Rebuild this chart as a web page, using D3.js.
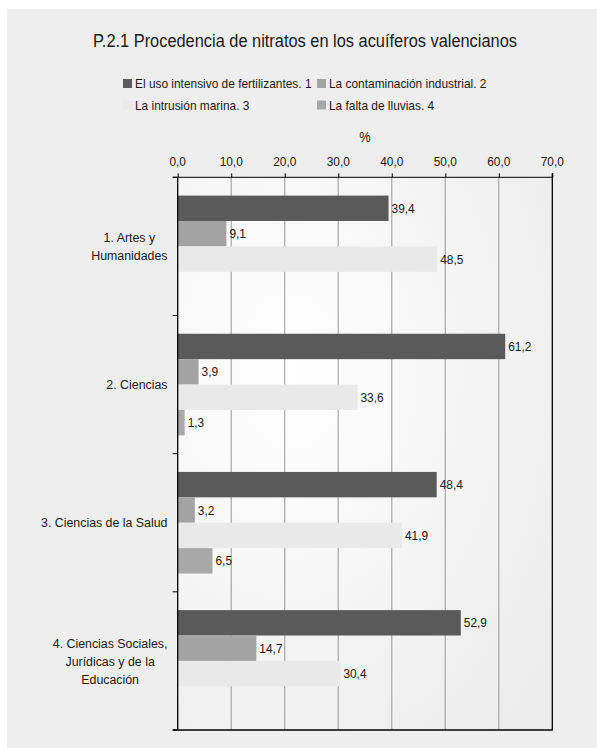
<!DOCTYPE html>
<html><head><meta charset="utf-8">
<script src="https://cdn.jsdelivr.net/npm/d3@7"></script>
<style>
html,body{margin:0;padding:0;background:#fff;}
svg text{font-family:"Liberation Sans",Arial,sans-serif;fill:#1a1a1a;}
</style></head>
<body>
<svg id="chart" width="597" height="748"></svg>
<script>
const title = "P.2.1 Procedencia de nitratos en los acuíferos valencianos";
const categories = ["1. Artes y Humanidades", "2. Ciencias", "3. Ciencias de la Salud", "4. Ciencias Sociales, Jurídicas y de la Educación"];
const categoryLines = [["1. Artes y", "Humanidades"], ["2. Ciencias"], ["3. Ciencias de la Salud"], ["4. Ciencias Sociales,", "Jurídicas y de la", "Educación"]];
const seriesNames = ["El uso intensivo de fertilizantes. 1", "La contaminación industrial. 2", "La intrusión marina. 3", "La falta de lluvias. 4"];
const seriesColors = ["#5a5a5a", "#a3a3a3", "#e9e9e9", "#a8a8a8"];
const s1 = [39.4, 61.2, 48.4, 52.9];
const s2 = [9.1, 3.9, 3.2, 14.7];
const s3 = [48.5, 33.6, 41.9, 30.4];
const s4 = [null, 1.3, 6.5, null];
const tickValues = [0, 10, 20, 30, 40, 50, 60, 70];
const axisTitle = "%";

(function () {
const seriesValues = [s1, s2, s3, s4];
const svg = d3.select("#chart");
const loc = d3.formatLocale({decimal: ",", thousands: ".", grouping: [3], currency: ["", "€"]});
const fmt = loc.format(".1f");

// condensed text helper
function ctext(parent, x, y, str, size, anchor, k) {
  return parent.append("text")
    .attr("transform", `translate(${x},${y}) scale(${k},1)`)
    .attr("dy", "0.35em").attr("font-size", size).attr("text-anchor", anchor || "start").text(str);
}
function natW(str, size) {
  const t = svg.append("text").attr("font-size", size).text(str);
  const w = t.node().getComputedTextLength(); t.remove(); return w;
}
const K = 176.7 / natW(seriesNames[0], 13);
const KT = 424 / natW(title, 18.5);

// background
const defs = svg.append("defs");
const rg = defs.append("radialGradient").attr("id", "pg").attr("cx", "0.3").attr("cy", "0.35").attr("r", "0.85");
rg.append("stop").attr("offset", "0").attr("stop-color", "#ffffff");
rg.append("stop").attr("offset", "1").attr("stop-color", "#ececec");
svg.append("rect").attr("x", 7).attr("y", 9).attr("width", 590).attr("height", 739).attr("fill", "#eeeeee");

const pL = 177.7, pR = 552.3, pT = 177.3, pB = 730;
const x = d3.scaleLinear().domain([0, 70]).range([pL, pR]);
const y0 = d3.scaleBand().domain(categories).range([pT, pB]).paddingInner(0).paddingOuter(0);
const y1 = d3.scaleBand().domain(seriesNames).range([0, y0.bandwidth()]).paddingInner(0).paddingOuter(0.72);

svg.append("rect").attr("x", pL).attr("y", pT).attr("width", pR - pL).attr("height", pB - pT).attr("fill", "url(#pg)");

// gridlines
svg.append("g").selectAll("line").data(tickValues.slice(1, -1)).join("line")
  .attr("x1", d => x(d)).attr("x2", d => x(d)).attr("y1", pT).attr("y2", pB)
  .attr("stroke", "#a6a6a6").attr("stroke-width", 1.2);

// bars
const g = svg.append("g");
categories.forEach((c, ci) => {
  seriesNames.forEach((s, si) => {
    const v = seriesValues[si][ci];
    if (v == null) return;
    const yy = y0(c) + y1(s);
    g.append("rect").attr("x", x(0)).attr("y", yy).attr("width", x(v) - x(0)).attr("height", y1.bandwidth())
      .attr("fill", seriesColors[si]);
    ctext(g, x(v) + 3, yy + y1.bandwidth() / 2, fmt(v), 13, "start", K);
  });
});

// top axis
const xAxis = d3.axisTop(x).tickValues(tickValues).tickSize(4).tickFormat("");
const ax = svg.append("g").attr("transform", `translate(0,${pT})`).call(xAxis);
ax.select(".domain").remove();
ax.selectAll(".tick line").attr("stroke", "#000");
ax.append("line").attr("x1", pL - 5).attr("x2", pR).attr("y1", 0).attr("y2", 0).attr("stroke", "#000");
const tl = svg.append("g");
tickValues.forEach(t => ctext(tl, x(t), 161, fmt(t), 13, "middle", K));

// left axis with ticks at category boundaries
const bounds = categories.map(c => y0(c)).concat([pB]);
svg.append("g").selectAll("line").data(bounds).join("line")
  .attr("x1", pL - 5).attr("x2", pL).attr("y1", d => d).attr("y2", d => d).attr("stroke", "#000");
svg.append("line").attr("x1", pL).attr("x2", pL).attr("y1", pT).attr("y2", pB).attr("stroke", "#000").attr("stroke-width", 1.3);
svg.append("line").attr("x1", pR).attr("x2", pR).attr("y1", pT - 4).attr("y2", pB).attr("stroke", "#000").attr("stroke-width", 1.3);
svg.append("line").attr("x1", pL - 5).attr("x2", pR + 0.6).attr("y1", pB).attr("y2", pB).attr("stroke", "#000").attr("stroke-width", 1.3);

// category labels
const labelRight = 167.5, lh = 18;
categories.forEach((c, ci) => {
  const lines = categoryLines[ci];
  const cy = y0(c) + y0.bandwidth() / 2;
  const maxW = d3.max(lines, l => natW(l, 13.5)) * K;
  const tg = svg.append("g");
  lines.forEach((l, li) => ctext(tg, labelRight - maxW / 2, cy + (li - (lines.length - 1) / 2) * lh, l, 13.5, "middle", K));
});

// title
ctext(svg, 305, 41, title, 18.5, "middle", KT);
// axis title
ctext(svg, x(35), 137, axisTitle, 14, "middle", K);

// legend
const legPos = [[123, 83.5], [317, 83.5], [123, 105], [317, 105]];
seriesNames.forEach((s, si) => {
  const [lx, ly] = legPos[si];
  svg.append("rect").attr("x", lx).attr("y", ly - 4.5).attr("width", 9).attr("height", 9).attr("fill", seriesColors[si]);
  ctext(svg, lx + 12, ly, s, 13, "start", K);
});
})();
</script>
</body></html>
